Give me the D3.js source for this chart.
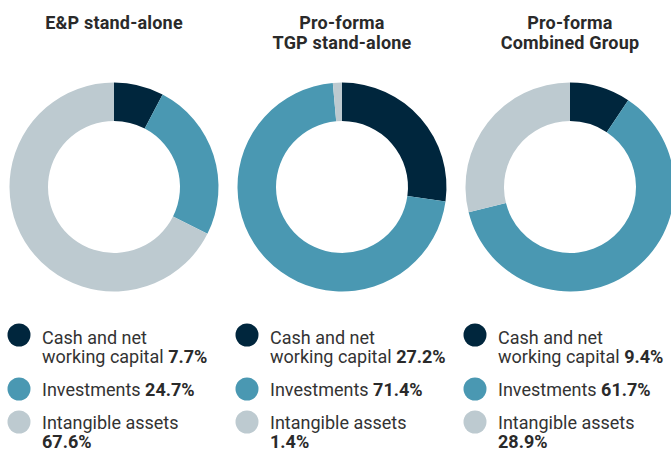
<!DOCTYPE html>
<html>
<head>
<meta charset="utf-8">
<script src="https://cdn.jsdelivr.net/npm/d3@7"></script>
<style>
  body { margin: 0; background: #fff; }
  svg { display: block; font-family: Roboto, "Liberation Sans", sans-serif; }
</style>
</head>
<body>
<svg class="chart"></svg>
<script>
// chart data
var groups = ["ep", "tgp", "combined"];
var titles = [["E&P stand-alone"], ["Pro-forma", "TGP stand-alone"], ["Pro-forma", "Combined Group"]];
var categories = ["Cash and net working capital", "Investments", "Intangible assets"];
var labelLines = [["Cash and net", "working capital"], ["Investments"], ["Intangible assets", ""]];
var epValues = [7.7, 24.7, 67.6];
var tgpValues = [27.2, 71.4, 1.4];
var combinedValues = [9.4, 61.7, 28.9];
var valueLabels = [["7.7%", "24.7%", "67.6%"], ["27.2%", "71.4%", "1.4%"], ["9.4%", "61.7%", "28.9%"]];

var allValues = [epValues, tgpValues, combinedValues];

var width = 671, height = 450;
var svg = d3.select(".chart").attr("width", width).attr("height", height);

var x = d3.scaleBand().domain(groups).range([0, 684]);
var color = d3.scaleOrdinal().domain(categories).range(["#00263d", "#4a98b2", "#bdcad0"]);

var pie = d3.pie().sort(null).value(function(d) { return d.value; });
var arc = d3.arc().innerRadius(66).outerRadius(104.5);

var cy = 187;

groups.forEach(function(g, i) {
  var cx = x(g) + x.bandwidth() / 2;

  // title
  var t = svg.append("text")
    .attr("x", cx)
    .attr("text-anchor", "middle")
    .style("font-size", "18px")
    .style("font-weight", "bold")
    .style("letter-spacing", "0.2px")
    .style("fill", "#2a2a2a");
  titles[i].forEach(function(line, j) {
    t.append("tspan").attr("x", cx).attr("y", 29 + j * 19.5).text(line);
  });

  // donut
  var data = categories.map(function(c, k) { return {cat: c, value: allValues[i][k]}; });
  var donut = svg.append("g").attr("transform", "translate(" + cx + "," + cy + ")");
  donut.selectAll("path")
    .data(pie(data))
    .enter().append("path")
    .attr("d", arc)
    .attr("fill", function(d) { return color(d.data.cat); });

  // legend
  var lx = x(g) + 19;
  var rows = [335, 389, 422];
  var baselines = [344, 396, 429.3];
  categories.forEach(function(c, k) {
    svg.append("circle")
      .attr("cx", lx)
      .attr("cy", rows[k])
      .attr("r", 11.5)
      .attr("fill", color(c));

    var txt = svg.append("text")
      .style("font-size", "18px")
      .style("fill", "#333");
    var lines = labelLines[k];
    lines.forEach(function(line, j) {
      var ts = txt.append("tspan").attr("x", lx + 23).attr("y", baselines[k] + j * 18.6);
      if (j === lines.length - 1) {
        ts.text(line === "" ? "" : line + " ");
        ts.append("tspan").style("font-weight", "bold").style("fill", "#2a2a2a").text(valueLabels[i][k]);
      } else {
        ts.text(line);
      }
    });
  });
});
</script>
</body>
</html>
